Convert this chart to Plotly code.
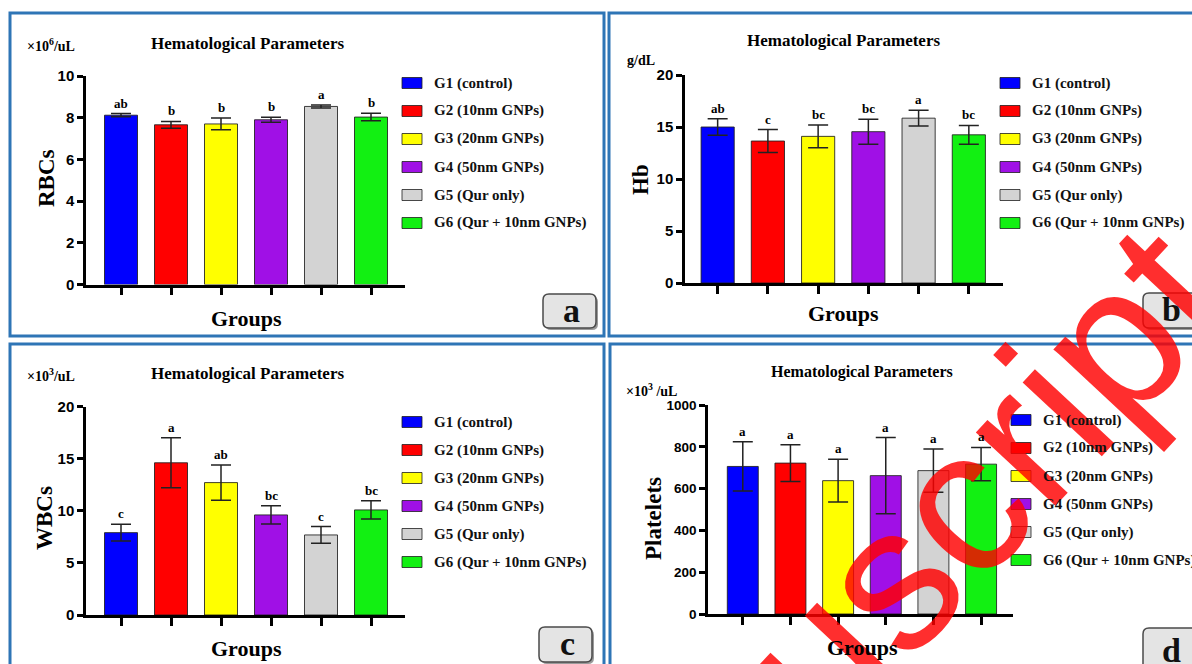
import plotly.graph_objects as go

# ---------------- data ----------------
GROUPS = ["G1 (control)", "G2 (10nm GNPs)", "G3 (20nm GNPs)", "G4 (50nm GNPs)",
          "G5 (Qur only)", "G6 (Qur + 10nm GNPs)"]
COLORS = ["#0000FF", "#FF0000", "#FFFF00", "#A010E6", "#D3D3D3", "#12F012"]

RBC_MEAN = [8.12, 7.66, 7.70, 7.90, 8.54, 8.03]
RBC_ERR = [0.08, 0.16, 0.28, 0.12, 0.07, 0.18]
RBC_SIG = ["ab", "b", "b", "b", "a", "b"]

HB_MEAN = [15.0, 13.65, 14.1, 14.55, 15.85, 14.25]
HB_ERR = [0.8, 1.1, 1.1, 1.2, 0.75, 0.9]
HB_SIG = ["ab", "c", "bc", "bc", "a", "bc"]

WBC_MEAN = [7.9, 14.6, 12.7, 9.6, 7.68, 10.08]
WBC_ERR = [0.8, 2.4, 1.7, 0.87, 0.8, 0.88]
WBC_SIG = ["c", "a", "ab", "bc", "c", "bc"]

PLT_MEAN = [706, 722, 638, 662, 686, 717]
PLT_ERR = [118, 88, 102, 182, 104, 80]
PLT_SIG = ["a", "a", "a", "a", "a", "a"]

TITLE = "Hematological Parameters"
X_TITLE = "Groups"
Y_TITLES = ["RBCs", "Hb", "WBCs", "Platelets"]
UNITS = ["×10<sup>6</sup>/uL", "g/dL", "×10<sup>3</sup>/uL", "×10<sup>3</sup> /uL"]
PANEL_LETTERS = ["a", "b", "c", "d"]
Y_RANGES = [[0, 10], [0, 20], [0, 20], [0, 1000]]
Y_DTICKS = [2, 5, 5, 200]
WATERMARK = "Manuscript"

MEANS = [RBC_MEAN, HB_MEAN, WBC_MEAN, PLT_MEAN]
ERRS = [RBC_ERR, HB_ERR, WBC_ERR, PLT_ERR]
SIGS = [RBC_SIG, HB_SIG, WBC_SIG, PLT_SIG]

# ---------------- layout (pixels) ----------------
W, H = 1192, 664
SERIF = "Liberation Serif, Times New Roman, serif"
SANS = "Liberation Sans, Arial, Helvetica, sans-serif"
FRAME_COLOR = "#2E75B6"


def px(x):
    return x / W


def py(y):
    return 1 - y / H


PANELS = [
    dict(xdom=(86, 405), ydom=(284.5, 76), xr=[-0.7, 5.68], bw=0.66, tick=15,
         ytitle=(46, 178), xtitle=(246, 318),
         unit=(25, 45), title=(247, 43, 17), leg=(402, 83), frame=(10, 13, 604, 336),
         box=(543, 294, 596, 328)),
    dict(xdom=(685, 1003), ydom=(283, 75), xr=[-0.65, 5.68], bw=0.66, tick=15,
         ytitle=(640, 180), xtitle=(843, 313),
         unit=(625, 60), title=(843, 41, 17), leg=(1000, 83), frame=(609, 13, 1210, 336),
         box=(1143, 293, 1215, 328)),
    dict(xdom=(86, 405), ydom=(615, 406.5), xr=[-0.7, 5.68], bw=0.66, tick=15,
         ytitle=(44, 518), xtitle=(246, 648),
         unit=(25, 375), title=(247, 373, 17), leg=(402, 422), frame=(10, 344, 604, 700),
         box=(539, 627, 592, 662)),
    dict(xdom=(708, 1013), ydom=(614, 405), xr=[-0.73, 5.67], bw=0.65, tick=13.5,
         ytitle=(653, 518), xtitle=(862, 647),
         unit=(624, 390), title=(862, 372, 16), leg=(1011, 420), frame=(610, 344, 1210, 700),
         box=(1143, 628, 1215, 675)),
]
LEG_STEP = 28


def rr_path(x0, y0, x1, y1, r):
    pts = [("M", [(x0 + r, y0)]), ("L", [(x1 - r, y0)]), ("Q", [(x1, y0), (x1, y0 + r)]),
           ("L", [(x1, y1 - r)]), ("Q", [(x1, y1), (x1 - r, y1)]), ("L", [(x0 + r, y1)]),
           ("Q", [(x0, y1), (x0, y1 - r)]), ("L", [(x0, y0 + r)]), ("Q", [(x0, y0), (x0 + r, y0)])]
    s = ""
    for cmd, ps in pts:
        s += cmd + " " + " ".join(f"{px(a):.5f},{py(b):.5f}" for a, b in ps) + " "
    return s + "Z"


fig = go.Figure()
annotations = []
shapes = []

# watermark (drawn first so other text sits on top)
annotations.append(dict(text=WATERMARK, xref="paper", yref="paper", x=px(846), y=py(625),
                        xanchor="center", yanchor="middle", showarrow=False, textangle=-47,
                        font=dict(family=SANS, size=205, color="rgba(255,0,0,0.82)")))

layout_axes = {}
for k, p in enumerate(PANELS):
    n = "" if k == 0 else str(k + 1)
    xa, ya = "x" + n, "y" + n
    fig.add_trace(go.Bar(
        x=list(range(len(GROUPS))), y=MEANS[k], width=p["bw"],
        marker=dict(color=COLORS, line=dict(color="rgba(30,30,30,0.85)", width=1)),
        error_y=dict(type="data", array=ERRS[k], visible=True, color="#222", thickness=1.5, width=10),
        xaxis=xa, yaxis=ya, showlegend=False, hovertext=GROUPS, name=Y_TITLES[k]))

    layout_axes["xaxis" + n] = dict(
        domain=[px(p["xdom"][0]), px(p["xdom"][1])], range=p["xr"], anchor=ya,
        tickvals=list(range(len(GROUPS))), showticklabels=False, ticks="outside",
        ticklen=8, tickwidth=2.5, tickcolor="black", showline=True, linewidth=2.5,
        linecolor="black", showgrid=False, zeroline=False, automargin=False)
    layout_axes["yaxis" + n] = dict(
        domain=[py(p["ydom"][0]), py(p["ydom"][1])], range=Y_RANGES[k], anchor=xa,
        dtick=Y_DTICKS[k], tick0=0, ticks="outside", ticklen=6, tickwidth=2.5, tickcolor="black",
        showline=True, linewidth=2.5, linecolor="black", showgrid=False, zeroline=False,
        automargin=False,
        tickfont=dict(family=SANS, size=p["tick"], color="black", weight="bold"))

    # axis titles
    yx, yy0 = p["ytitle"]
    annotations.append(dict(text=Y_TITLES[k], x=px(yx), y=py(yy0), xref="paper", yref="paper",
                            showarrow=False, textangle=-90, xanchor="center", yanchor="middle",
                            font=dict(family=SERIF, size=23, color="black", weight="bold")))
    gx, gy = p["xtitle"]
    annotations.append(dict(text=X_TITLE, x=px(gx), y=py(gy), xref="paper", yref="paper",
                            showarrow=False, xanchor="center", yanchor="middle",
                            font=dict(family=SERIF, size=22, color="black", weight="bold")))

    # significance letters
    for i in range(len(GROUPS)):
        annotations.append(dict(text=SIGS[k][i], x=i, y=MEANS[k][i] + ERRS[k][i], xref=xa, yref=ya,
                                yanchor="bottom", showarrow=False, yshift=1,
                                font=dict(family=SERIF, size=13, color="black", weight="bold")))

    # title & unit
    tx, ty, ts = p["title"]
    annotations.append(dict(text=TITLE, x=px(tx), y=py(ty), xref="paper", yref="paper", showarrow=False,
                            xanchor="center", yanchor="middle",
                            font=dict(family=SERIF, size=ts, color="black", weight="bold")))
    ux, uy = p["unit"]
    annotations.append(dict(text=UNITS[k], x=px(ux), y=py(uy), xref="paper", yref="paper", showarrow=False,
                            xanchor="left", yanchor="middle",
                            font=dict(family=SERIF, size=14, color="black", weight="bold")))

    # legend
    lx, ly = p["leg"]
    for i, (g, c) in enumerate(zip(GROUPS, COLORS)):
        yy = ly + i * LEG_STEP
        shapes.append(dict(type="rect", xref="paper", yref="paper", x0=px(lx), x1=px(lx + 20),
                           y0=py(yy - 5.5), y1=py(yy + 5.5), fillcolor=c,
                           line=dict(color="rgba(30,30,30,0.8)", width=1)))
        annotations.append(dict(text=g, x=px(lx + 30), y=py(yy), xref="paper", yref="paper",
                                showarrow=False, xanchor="left", yanchor="middle",
                                font=dict(family=SERIF, size=15, color="#111", weight="bold")))

    # frame
    fx0, fy0, fx1, fy1 = p["frame"]
    shapes.append(dict(type="rect", xref="paper", yref="paper", x0=px(fx0), x1=px(fx1),
                       y0=py(fy1), y1=py(fy0), line=dict(color=FRAME_COLOR, width=3),
                       fillcolor="rgba(0,0,0,0)"))

    # panel letter box
    bx0, by0, bx1, by1 = p["box"]
    shapes.append(dict(type="path", xref="paper", yref="paper",
                       path=rr_path(bx0 + 2, by0 + 2, bx1 + 2, by1 + 2, 6),
                       fillcolor="#9a9a9a", line=dict(width=0)))
    shapes.append(dict(type="path", xref="paper", yref="paper", path=rr_path(bx0, by0, bx1, by1, 6),
                       fillcolor="#E4E4E4", line=dict(color="#4a4a4a", width=1.5)))
    annotations.append(dict(text=PANEL_LETTERS[k], x=px((bx0 + min(bx1, 1196)) / 2 + 2), y=py((by0 + by1) / 2 - 1),
                            xref="paper", yref="paper", showarrow=False, xanchor="center", yanchor="middle",
                            font=dict(family=SERIF, size=34, color="#111", weight="bold")))

fig.update_layout(
    width=W, height=H, margin=dict(l=0, r=0, t=0, b=0, pad=0, autoexpand=False), autosize=False,
    paper_bgcolor="white", plot_bgcolor="white", showlegend=False,
    annotations=annotations, shapes=shapes, **layout_axes)

fig.write_html("out.html", config={"displayModeBar": False},
               post_script="document.body.style.margin='0';document.body.style.overflow='hidden';")
